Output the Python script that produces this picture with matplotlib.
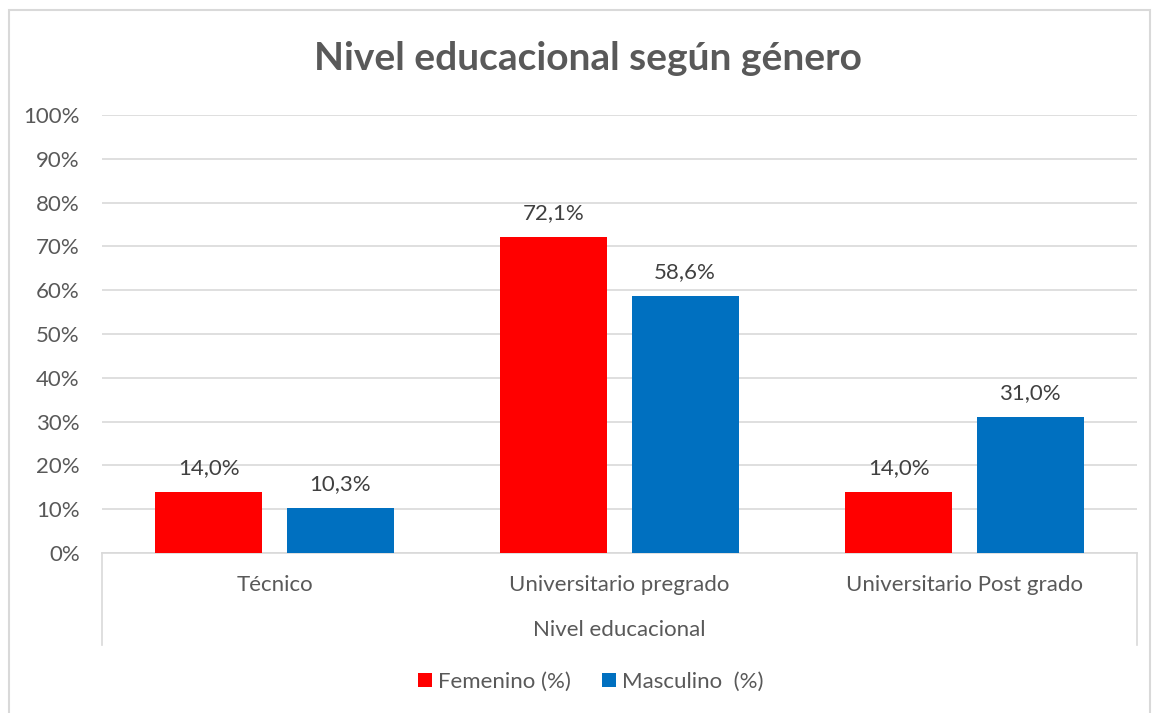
import numpy as np
import matplotlib.pyplot as plt
from matplotlib.patches import Rectangle

categories = ["Técnico", "Universitario pregrado", "Universitario Post grado"]
femenino = [14.0, 72.1, 14.0]
masculino = [10.3, 58.6, 31.0]
series_names = ["Femenino (%)", "Masculino  (%)"]
y_ticks = list(range(0, 101, 10))

RED = "#ff0000"
BLUE = "#0070c0"
TEXT = "#595959"
GRID = "#d9d9d9"

plt.rcParams["font.family"] = ["Lato", "DejaVu Sans"]

W, H = 1153, 713
fig = plt.figure(figsize=(W / 100, H / 100), dpi=100)


def fx(px):
    return px / W


def fy(py):
    return 1 - py / H


# chart border
fig.patches.append(Rectangle((fx(9), fy(740)), fx(1141), 730 / H, transform=fig.transFigure,
                             fill=False, edgecolor=GRID, linewidth=1.5, clip_on=False))

ax = fig.add_axes([fx(102), fy(553), fx(1137 - 102), (553 - 115) / H])

x = np.arange(len(categories))
off = 0.19
w = 0.31
b1 = ax.bar(x - off, femenino, w, color=RED, zorder=3)
b2 = ax.bar(x + off, masculino, w, color=BLUE, zorder=3)

for bars, vals in ((b1, femenino), (b2, masculino)):
    for r, v in zip(bars, vals):
        ax.annotate(f"{v:.1f}%".replace(".", ","), (r.get_x() + r.get_width() / 2, v),
                    xytext=(0, 10), textcoords="offset points", ha="center", va="bottom",
                    fontsize=16, color="#404040")

ax.set_xlim(-0.5, 2.5)
ax.set_ylim(0, 100)
ax.set_yticks(y_ticks, [f"{t}%" for t in y_ticks])
ax.set_xticks(x, categories)
ax.tick_params(axis="y", length=0, pad=16, labelsize=16, labelcolor=TEXT)
ax.tick_params(axis="x", length=0, pad=16, labelsize=16, labelcolor=TEXT)
ax.grid(axis="y", color=GRID, linewidth=1.2, zorder=0)
for s in ("left", "right", "top"):
    ax.spines[s].set_visible(False)
ax.spines["bottom"].set_color(GRID)
ax.spines["bottom"].set_linewidth(1.2)

# outer category axis lines
depth = (645 - 553) / (553 - 115)
for xv in (0, 1):
    ax.plot([xv, xv], [0, -depth], transform=ax.transAxes, color=GRID, lw=1.2, clip_on=False)

fig.text(0.5 * (fx(102) + fx(1137)), fy(630), "Nivel educacional", ha="center", va="center",
         fontsize=16, color=TEXT)

fig.text(fx(588), fy(58), "Nivel educacional según género", ha="center", va="center",
         fontsize=28, fontweight="bold", color=TEXT)

leg = fig.legend([b1, b2], series_names, loc="center", bbox_to_anchor=(fx(591), fy(682)),
                 ncol=2, frameon=False, fontsize=16, handlelength=0.6, handleheight=0.6,
                 handletextpad=0.3, columnspacing=1.4)
for t in leg.get_texts():
    t.set_color(TEXT)

fig.savefig("out.png", dpi=100)
